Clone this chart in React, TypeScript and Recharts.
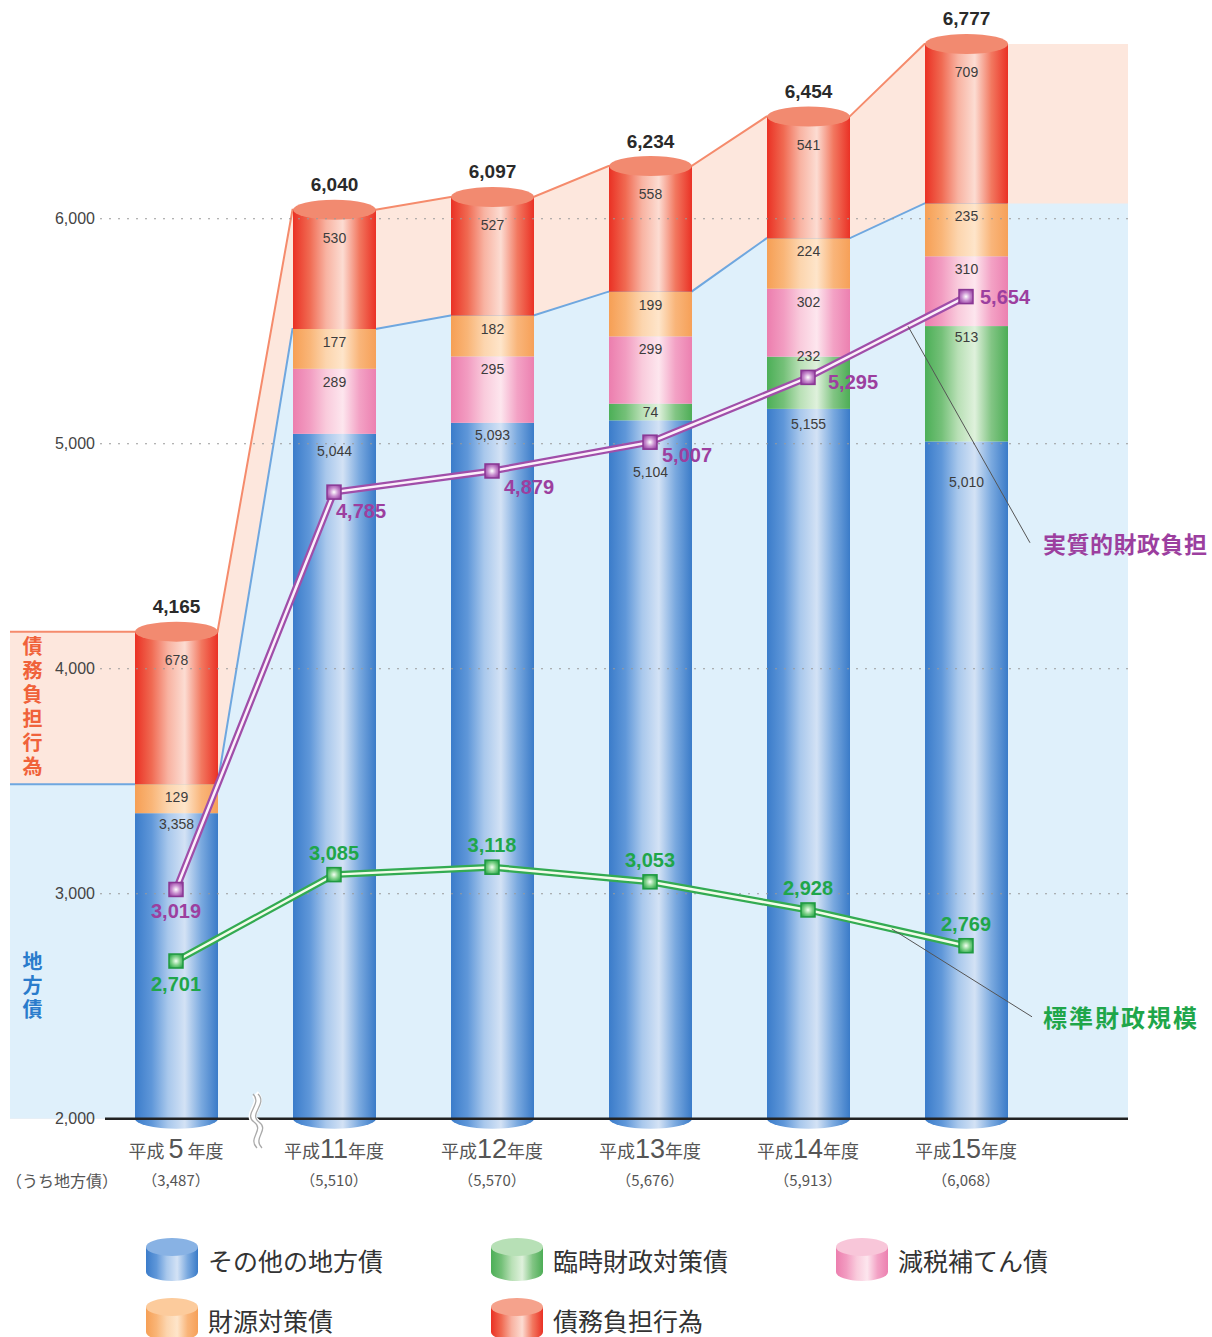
import React from "react";
import {
  ComposedChart,
  Bar,
  Line,
  Area,
  XAxis,
  YAxis,
  ReferenceLine,
  LabelList,
} from "recharts";

// 年度と凡例
const YEARS = [5, 11, 12, 13, 14, 15];
const CATEGORIES = YEARS.map((y) => `平成${y}年度`);

// (うち地方債) と合計
const LOCAL_BOND = [3487, 5510, 5570, 5676, 5913, 6068];
const TOTAL = [4165, 6040, 6097, 6234, 6454, 6777];

// 積み上げの内訳（下から）
const OTHER_BONDS = [3358, 5044, 5093, 5104, 5155, 5010];
const TEMP_FISCAL = [0, 0, 0, 74, 232, 513];
const TAX_CUT = [0, 289, 295, 299, 302, 310];
const REVENUE = [129, 177, 182, 199, 224, 235];
const DEBT_BURDEN = [678, 530, 527, 558, 541, 709];

// 折れ線
const REAL_BURDEN = [3019, 4785, 4879, 5007, 5295, 5654];
const STANDARD_SCALE = [2701, 3085, 3118, 3053, 2928, 2769];

const Y_TICKS = [2000, 3000, 4000, 5000, 6000];

// layout
const W = 1212;
const H = 1200;
const M = { top: 5, right: 84, bottom: 10, left: 10 };
const XAXIS_H = 60;
const PAD_L = 87;
const PAD_R = 83;
const BAND = 158;
const BAR = 83;
const RY = 10;
const BASE = 2000;
const Y_MIN = 1950;
const Y_MAX = 6950;
const PX = (H - M.top - M.bottom - XAXIS_H) / (Y_MAX - Y_MIN);
const LAST = CATEGORIES.length - 1;
const X_MIN = -(PAD_L + BAND / 2) / BAND;
const X_MAX = LAST + (PAD_R + BAND / 2) / BAND;
const HALF = BAR / 2 / BAND;
const GRID_X0 = (100 - (M.left + PAD_L + BAND / 2)) / BAND;
const AXIS_X0 = (105 - (M.left + PAD_L + BAND / 2)) / BAND;

const NUM = "'Liberation Sans', Arial, sans-serif";
const JP = "'Noto Sans CJK JP', sans-serif";
const PURPLE = "#9c3f9f";
const GREEN = "#1fa64a";

const fmt = (v: number) => v.toLocaleString("en-US");

const rows = CATEGORIES.map((name, i) => ({
  name,
  other: OTHER_BONDS[i],
  temp: TEMP_FISCAL[i],
  taxcut: TAX_CUT[i],
  revenue: REVENUE[i],
  debt: DEBT_BURDEN[i],
  real: REAL_BURDEN[i],
  standard: STANDARD_SCALE[i],
}));

// background bands: flat across each bar, straight between bars
const edgeRows: { x: number; total: number; bond: number }[] = [
  { x: X_MIN, total: TOTAL[0], bond: LOCAL_BOND[0] },
];
CATEGORIES.forEach((_, i) => {
  edgeRows.push({ x: i - HALF, total: TOTAL[i], bond: LOCAL_BOND[i] });
  edgeRows.push({ x: i + HALF, total: TOTAL[i], bond: LOCAL_BOND[i] });
});
const tailRows = [
  { x: LAST + HALF, total: TOTAL[LAST], bond: LOCAL_BOND[LAST] },
  { x: X_MAX, total: TOTAL[LAST], bond: LOCAL_BOND[LAST] },
];

// label offsets inside the segments
const BLUE_LABEL_DY = [11, 17, 12, 52, 15, 40];
const GREEN_LABEL_DY = [0, 0, 0, 8, -1, 11];

type Role = "bottom" | "mid" | "top";

const segText = (x: number, y: number, v: number) => (
  <text
    x={x}
    y={y}
    textAnchor="middle"
    dominantBaseline="central"
    fontSize={14}
    fontFamily={NUM}
    fill="#3c3c3c"
  >
    {fmt(v)}
  </text>
);

// below: key of the segment under this one whose label is drawn here,
// so the next segment up does not paint over it
function segment(
  key: string,
  grad: string,
  role: Role,
  labelDy: ((i: number) => number) | null,
  below?: { key: string; dy: (i: number) => number }
) {
  return (p: any) => {
    const v = p.payload?.[key];
    if (!v) return <g />;
    const { x, y, width, index } = p;
    const bottom = role === "bottom" ? y + (v - BASE) * PX : y + p.height;
    const cx = x + width / 2;
    const under = below ? p.payload?.[below.key] : 0;
    return (
      <g>
        {role === "bottom" && (
          <ellipse cx={cx} cy={bottom} rx={width / 2} ry={RY} fill={`url(#${grad})`} />
        )}
        <rect x={x} y={y} width={width} height={bottom - y} fill={`url(#${grad})`} />
        {role === "top" && <ellipse cx={cx} cy={y} rx={width / 2} ry={RY} fill="#f28a70" />}
        {labelDy && segText(cx, y + labelDy(index), v)}
        {below && under ? segText(cx, bottom + below.dy(index), under) : null}
        {role === "top" && (
          <text
            x={cx}
            y={y - 25}
            textAnchor="middle"
            dominantBaseline="central"
            fontSize={19}
            fontWeight="bold"
            fontFamily={NUM}
            fill="#2a2a2a"
          >
            {fmt(TOTAL[index])}
          </text>
        )}
      </g>
    );
  };
}

const makeDot = (grad: string, edge: string) => (p: any) => {
  const { cx, cy, index } = p;
  if (cx == null || cy == null) return <g key={index} />;
  return (
    <rect
      key={index}
      x={cx - 7}
      y={cy - 7}
      width={14}
      height={14}
      fill={`url(#${grad})`}
      stroke={edge}
      strokeWidth={1.5}
    />
  );
};

const REAL_LABEL_POS = [
  { dx: 0, dy: 22, anchor: "middle" },
  { dx: 2, dy: 19, anchor: "start" },
  { dx: 12, dy: 16, anchor: "start" },
  { dx: 12, dy: 13, anchor: "start" },
  { dx: 20, dy: 5, anchor: "start" },
  { dx: 14, dy: 0, anchor: "start" },
];

const realLabel = (p: any) => {
  const pos = REAL_LABEL_POS[p.index];
  return (
    <text
      x={p.x + pos.dx}
      y={p.y + pos.dy}
      textAnchor={pos.anchor}
      dominantBaseline="central"
      fontSize={20}
      fontWeight="bold"
      fontFamily={NUM}
      fill={PURPLE}
    >
      {fmt(p.value)}
    </text>
  );
};

const standardLabel = (p: any) => (
  <text
    x={p.x}
    y={p.y + (p.index === 0 ? 23 : -22)}
    textAnchor="middle"
    dominantBaseline="central"
    fontSize={20}
    fontWeight="bold"
    fontFamily={NUM}
    fill={GREEN}
  >
    {fmt(p.value)}
  </text>
);

// y tick text, hung on the reference lines so it sits above the bands
const YLabel = (p: any) => (
  <text
    x={95}
    y={p.viewBox?.y}
    textAnchor="end"
    dominantBaseline="central"
    fontSize={16}
    fontFamily={NUM}
    fill="#444"
  >
    {p.text}
  </text>
);

const XTick = (p: any) => {
  const i = p.payload.index;
  const m = /^(\D+)(\d+)(\D+)$/.exec(String(p.payload.value));
  const era = m ? m[1] : "";
  const yr = m ? m[2] : "";
  const suf = m ? m[3] : "";
  const pad = yr.length === 1 ? " " : "";
  return (
    <g>
      <text x={p.x} y={p.y + 28} textAnchor="middle" fill="#555" fontFamily={JP} fontSize={18}>
        <tspan>{era + pad}</tspan>
        <tspan fontSize={27} fontFamily={NUM}>{yr}</tspan>
        <tspan>{pad + suf}</tspan>
      </text>
      <text x={p.x} y={p.y + 56} textAnchor="middle" fill="#555" fontFamily={JP} fontSize={15}>
        {`（${fmt(LOCAL_BOND[i])}）`}
      </text>
    </g>
  );
};

const lerp = (arr: number[], t: number) => arr[LAST - 1] + t * (arr[LAST] - arr[LAST - 1]);

const LEGEND = [
  { name: "その他の地方債", grad: "gBlue", top: "#88b2e4" },
  { name: "臨時財政対策債", grad: "gGreen", top: "#b7e0b6" },
  { name: "減税補てん債", grad: "gPink", top: "#f8c6d9" },
  { name: "財源対策債", grad: "gOrange", top: "#fccb9c" },
  { name: "債務負担行為", grad: "gRed", top: "#f5a28c" },
];

function Grad({ id, stops }: { id: string; stops: string[] }) {
  return (
    <linearGradient id={id} x1="0" y1="0" x2="1" y2="0">
      {stops.map((c, k) => (
        <stop key={k} offset={k / (stops.length - 1)} stopColor={c} />
      ))}
    </linearGradient>
  );
}

function LegendIcon({ grad, top }: { grad: string; top: string }) {
  return (
    <svg width={54} height={46} style={{ display: "block" }}>
      <rect x={1} y={10} width={52} height={25} fill={`url(#${grad})`} />
      <ellipse cx={27} cy={35} rx={26} ry={9} fill={`url(#${grad})`} />
      <ellipse cx={27} cy={10} rx={26} ry={9} fill={top} />
    </svg>
  );
}

const vertical = (text: string, color: string, left: number, top: number) => (
  <div
    style={{
      position: "absolute",
      left,
      top,
      writingMode: "vertical-rl",
      color,
      fontWeight: "bold",
      fontSize: 20,
      letterSpacing: 4,
      lineHeight: "26px",
      fontFamily: JP,
      whiteSpace: "nowrap",
    }}
  >
    {text}
  </div>
);

export default function App() {
  return (
    <div style={{ position: "relative", width: W, height: 1337, overflow: "hidden", fontFamily: JP, background: "#fff" }}>
      <style>{"body{margin:0}"}</style>
      <ComposedChart width={W} height={H} data={rows} margin={M}>
        <defs>
          <Grad id="gBlue" stops={["#3b7cca", "#5f97d9", "#a9c8ec", "#d3e2f5", "#7aa9df", "#3a7bc8"]} />
          <Grad id="gRed" stops={["#ea3124", "#f06a52", "#f8b3a2", "#fcdcd2", "#f27860", "#ea3125"]} />
          <Grad id="gOrange" stops={["#f69f55", "#f9b577", "#fcd5ae", "#fee5ca", "#f9b57a", "#f6a058"]} />
          <Grad id="gPink" stops={["#ec7eae", "#f29cc1", "#f9cbdc", "#fde6ee", "#f3a2c5", "#ec80b0"]} />
          <Grad id="gGreen" stops={["#4caf57", "#74c078", "#b9e0b6", "#dff1dc", "#82c584", "#4dad56"]} />
          <radialGradient id="dPurple" cx="0.5" cy="0.5" r="0.6">
            <stop offset="0" stopColor="#ffffff" />
            <stop offset="0.5" stopColor="#c98fd0" />
            <stop offset="1" stopColor="#9440a0" />
          </radialGradient>
          <radialGradient id="dGreen" cx="0.5" cy="0.5" r="0.6">
            <stop offset="0" stopColor="#f4fff2" />
            <stop offset="0.5" stopColor="#82d38c" />
            <stop offset="1" stopColor="#27a447" />
          </radialGradient>
        </defs>

        <XAxis
          dataKey="name"
          padding={{ left: PAD_L, right: PAD_R }}
          height={XAXIS_H}
          tickLine={false}
          axisLine={false}
          tickSize={0}
          tickMargin={0}
          interval={0}
          tick={XTick}
        />
        <XAxis xAxisId="edge" type="number" dataKey="x" domain={[X_MIN, X_MAX]} allowDataOverflow hide />
        <YAxis domain={[Y_MIN, Y_MAX]} allowDataOverflow ticks={Y_TICKS} width={0} hide />

        {/* 債務負担行為 band, then 地方債 band */}
        <Area xAxisId="edge" data={edgeRows} dataKey="total" type="linear" baseValue={BASE}
          stroke="#f58b6c" strokeWidth={2} fill="#fde7dd" fillOpacity={1} isAnimationActive={false} />
        <Area xAxisId="edge" data={tailRows} dataKey="total" type="linear" baseValue={BASE}
          stroke="none" fill="#fde7dd" fillOpacity={1} isAnimationActive={false} />
        <Area xAxisId="edge" data={edgeRows} dataKey="bond" type="linear" baseValue={BASE}
          stroke="#6fa7df" strokeWidth={2} fill="#dff0fb" fillOpacity={1} isAnimationActive={false} />
        <Area xAxisId="edge" data={tailRows} dataKey="bond" type="linear" baseValue={BASE}
          stroke="none" fill="#dff0fb" fillOpacity={1} isAnimationActive={false} />

        {Y_TICKS.slice(1).map((v) => (
          <ReferenceLine key={v} xAxisId="edge" segment={[{ x: GRID_X0, y: v }, { x: X_MAX, y: v }]}
            stroke="#9a9a9a" strokeDasharray="2 7" strokeWidth={1}
            label={<YLabel text={fmt(v)} />} />
        ))}
        <ReferenceLine xAxisId="edge" segment={[{ x: AXIS_X0, y: BASE }, { x: X_MAX, y: BASE }]}
          stroke="#222" strokeWidth={2.5} label={<YLabel text={fmt(BASE)} />} />

        <Bar dataKey="other" stackId="s" barSize={BAR} isAnimationActive={false}
          shape={segment("other", "gBlue", "bottom", (i) => BLUE_LABEL_DY[i])} />
        <Bar dataKey="temp" stackId="s" barSize={BAR} isAnimationActive={false}
          shape={segment("temp", "gGreen", "mid", null)} />
        <Bar dataKey="taxcut" stackId="s" barSize={BAR} isAnimationActive={false}
          shape={segment("taxcut", "gPink", "mid", () => 13, { key: "temp", dy: (i) => GREEN_LABEL_DY[i] })} />
        <Bar dataKey="revenue" stackId="s" barSize={BAR} isAnimationActive={false}
          shape={segment("revenue", "gOrange", "mid", () => 13)} />
        <Bar dataKey="debt" stackId="s" barSize={BAR} isAnimationActive={false}
          shape={segment("debt", "gRed", "top", () => 28)} />

        <Line dataKey="real" type="linear" stroke="#a04ea9" strokeWidth={7} dot={false} activeDot={false}
          isAnimationActive={false} />
        <Line dataKey="real" type="linear" stroke="#fcf0fb" strokeWidth={2.5} dot={makeDot("dPurple", "#8a3794")}
          activeDot={false} isAnimationActive={false}>
          <LabelList dataKey="real" content={realLabel} />
        </Line>
        <Line dataKey="standard" type="linear" stroke="#33ab52" strokeWidth={7} dot={false} activeDot={false}
          isAnimationActive={false} />
        <Line dataKey="standard" type="linear" stroke="#f3fcea" strokeWidth={2.5} dot={makeDot("dGreen", "#1f9a40")}
          activeDot={false} isAnimationActive={false}>
          <LabelList dataKey="standard" content={standardLabel} />
        </Line>

        <ReferenceLine xAxisId="edge" segment={[{ x: LAST - 1 + 0.633, y: lerp(REAL_BURDEN, 0.633) }, { x: 5.405, y: 4560 }]}
          stroke="#555" strokeWidth={1} />
        <ReferenceLine xAxisId="edge" segment={[{ x: LAST - 1 + 0.53, y: lerp(STANDARD_SCALE, 0.53) }, { x: 5.418, y: 2453 }]}
          stroke="#555" strokeWidth={1} />
      </ComposedChart>

      {vertical("債務負担行為", "#f0623a", 19, 636)}
      {vertical("地方債", "#2a7ccc", 19, 951)}

      <div style={{ position: "absolute", left: 1043, top: 528, fontSize: 23, letterSpacing: 0.5, fontWeight: "bold", color: PURPLE, fontFamily: JP, lineHeight: "30px", whiteSpace: "nowrap" }}>
        実質的財政負担
      </div>
      <div style={{ position: "absolute", left: 1043, top: 1002, fontSize: 24, letterSpacing: 2, fontWeight: "bold", color: GREEN, fontFamily: JP, lineHeight: "30px", whiteSpace: "nowrap" }}>
        標準財政規模
      </div>
      <div style={{ position: "absolute", left: 6, top: 1169, fontSize: 16, color: "#555", fontFamily: JP, lineHeight: "22px", whiteSpace: "nowrap" }}>
        （うち地方債）
      </div>

      {/* axis break mark */}
      <svg width={40} height={70} style={{ position: "absolute", left: 240, top: 1088 }}>
        <path d="M15,6 C25,16 5,26 16,34 C27,42 9,50 19,60" stroke="#fff" strokeWidth={8} fill="none" />
        <path d="M13,6 C23,16 3,26 14,34 C25,42 7,50 17,60" stroke="#aaa" strokeWidth={1.3} fill="none" />
        <path d="M18,6 C28,16 8,26 19,34 C30,42 12,50 22,60" stroke="#aaa" strokeWidth={1.3} fill="none" />
      </svg>

      {LEGEND.map((l, k) => {
        const col = k % 3;
        const row = Math.floor(k / 3);
        return (
          <div key={l.name} style={{ position: "absolute", left: 145 + col * 345, top: 1237 + row * 60, display: "flex", alignItems: "center" }}>
            <LegendIcon grad={l.grad} top={l.top} />
            <span style={{ marginLeft: 9, fontSize: 25, color: "#333", fontFamily: JP }}>{l.name}</span>
          </div>
        );
      })}
    </div>
  );
}
